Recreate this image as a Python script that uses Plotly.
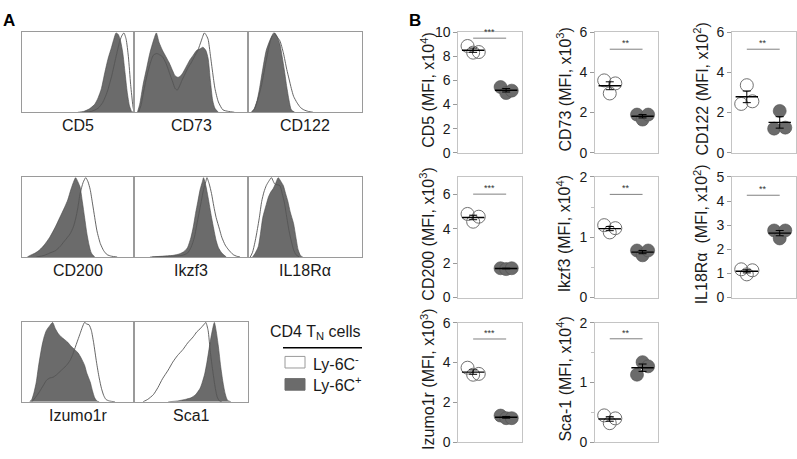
import numpy as np
import plotly.graph_objects as go

W, H = 797, 459
FONT = "Arial, Liberation Sans, Helvetica, sans-serif"

# ---------------- Panel A: histogram data (channel %, % of max) ----------------
HIST_LABELS = ["CD5", "CD73", "CD122", "CD200", "Ikzf3", "IL18R\u03b1", "Izumo1r", "Sca1"]

CD5_NEG_X = [55, 62, 68, 72, 76, 80, 84, 87, 89, 91, 93, 95, 97, 99, 100]
CD5_NEG_Y = [0, 1, 5, 12, 25, 45, 70, 88, 96, 100, 92, 70, 35, 8, 0]
CD5_POS_X = [50, 55, 60, 65, 68, 71, 74, 77, 80, 82, 84, 86, 88, 90, 92, 94, 96, 98, 100]
CD5_POS_Y = [0, 1, 4, 10, 18, 30, 50, 68, 82, 92, 100, 98, 90, 75, 50, 25, 8, 1, 0]

CD73_NEG_X = [4, 6, 9, 12, 15, 17, 20, 23, 25, 28, 31, 34, 36, 38, 40, 42, 44, 47, 50, 53, 56, 59, 61.7, 63, 65, 67, 69, 71, 74, 78, 83, 88]
CD73_NEG_Y = [0, 8, 30, 50, 65, 72, 74, 72, 70, 62, 50, 38, 30, 28, 33, 40, 46, 55, 62, 70, 78, 90, 100, 98, 92, 72, 50, 30, 13, 3, 1, 0]
CD73_POS_X = [3, 5, 8, 11, 14, 17, 19.6, 22, 25, 28, 31, 34, 36, 38.6, 41, 43, 46, 49, 52, 55, 58, 60.5, 63, 65, 67, 69, 71, 74]
CD73_POS_Y = [0, 10, 35, 55, 75, 90, 100, 88, 78, 70, 62, 52, 46, 44, 46, 50, 58, 66, 72, 78, 80, 82, 78, 68, 40, 15, 5, 0]

CD122_NEG_X = [3, 6, 9, 12, 15, 18, 20, 22.6, 25, 28, 31, 34, 36, 38, 40, 43, 46, 49, 53, 57]
CD122_NEG_Y = [0, 5, 18, 35, 58, 80, 92, 100, 96, 90, 75, 54, 42, 30, 20, 12, 6, 3, 1, 0]
CD122_POS_X = [3, 5, 8, 10, 13, 16, 19, 21, 23.5, 26, 28, 30, 32, 34, 36, 38, 41]
CD122_POS_Y = [0, 3, 15, 29, 55, 78, 90, 96, 100, 94, 86, 70, 52, 32, 15, 3, 0]

CD200_NEG_X = [13, 20, 25, 30, 34, 38, 43, 46, 48, 50, 52, 54.7, 57, 59, 61, 63, 65, 67, 70, 73, 76, 80, 85]
CD200_NEG_Y = [0, 2, 5, 8, 13, 20, 29, 38, 48, 62, 80, 94, 100, 95, 85, 68, 50, 33, 17, 8, 3, 1, 0]
CD200_POS_X = [5, 7.5, 12, 16, 20, 25, 30, 34, 38, 41, 44, 46, 48, 50, 52, 54, 56, 58, 60, 62, 65]
CD200_POS_Y = [0, 2, 5, 9, 15, 25, 38, 50, 62, 72, 86, 94, 100, 95, 88, 70, 50, 30, 15, 5, 0]

IKZF3_NEG_X = [16, 30, 42, 47, 50, 53, 55, 57, 59, 61, 63, 64, 66, 68, 70, 72, 75, 77, 80, 83, 87, 90, 93]
IKZF3_NEG_Y = [0, 1, 2, 5, 12, 25, 40, 55, 70, 85, 95, 100, 92, 80, 64, 50, 35, 25, 15, 9, 3, 1, 0]
IKZF3_POS_X = [14, 25, 34, 40, 44, 47, 50, 52, 54, 56, 58, 60, 61, 63, 65, 68, 70, 72, 74, 77, 81]
IKZF3_POS_Y = [0, 1, 2, 4, 7, 12, 25, 38, 55, 70, 85, 95, 100, 90, 75, 50, 35, 21, 12, 5, 0]

IL18R_NEG_X = [2, 4, 6, 7.5, 10, 12, 14, 16, 18, 20.6, 22, 23.5, 26, 28, 30, 32, 34, 36, 38, 40, 42, 45]
IL18R_NEG_Y = [0, 6, 18, 29, 50, 70, 82, 90, 95, 100, 96, 92, 91, 90, 80, 68, 50, 33, 20, 9, 3, 0]
IL18R_POS_X = [4, 6, 9, 11, 13, 16, 18, 20, 22, 24, 26.5, 29, 31, 33, 35, 37, 40, 42, 44, 46, 48]
IL18R_POS_Y = [0, 4, 13, 30, 50, 66, 76, 82, 86, 92, 100, 95, 90, 80, 70, 57, 42, 25, 9, 2, 0]

IZUMO_NEG_X = [9, 12, 16, 19, 22, 25, 28, 31, 34, 37, 40, 43, 45, 47, 50, 52, 54, 56, 58, 60, 62, 64, 66.6, 69, 71, 73, 75, 78, 83]
IZUMO_NEG_Y = [0, 5, 13, 20, 27, 30, 31, 34, 38, 42, 46, 52, 58, 66, 78, 86, 94, 100, 98, 97, 90, 75, 50, 30, 17, 8, 3, 1, 0]
IZUMO_POS_X = [7, 9, 11, 13, 15, 18, 20, 22, 25, 27.5, 30, 32.5, 35, 38.5, 41, 44, 47, 50, 53, 56, 58, 61, 63, 65, 67, 69]
IZUMO_POS_Y = [0, 3, 12, 25, 45, 70, 82, 90, 96, 100, 92, 86, 82, 78, 75, 70, 66, 62, 55, 46, 36, 25, 14, 5, 1, 0]

SCA1_NEG_X = [8, 12, 17, 21, 25, 30, 34, 38, 43, 47, 52, 55, 58, 61.7, 63, 65, 67, 69, 71, 73, 75, 77]
SCA1_NEG_Y = [0, 3, 9, 18, 29, 40, 50, 58, 66, 74, 82, 88, 92, 98, 100, 90, 62, 40, 20, 6, 1, 0]
SCA1_POS_X = [30, 38, 45, 50, 54, 58, 60, 62, 64, 66, 68, 70.5, 72, 74, 76, 78, 80, 82, 85]
SCA1_POS_Y = [0, 1, 3, 5, 9, 17, 25, 35, 50, 68, 85, 100, 90, 70, 45, 25, 10, 2, 0]

HISTS = [
    (CD5_NEG_X, CD5_NEG_Y, CD5_POS_X, CD5_POS_Y),
    (CD73_NEG_X, CD73_NEG_Y, CD73_POS_X, CD73_POS_Y),
    (CD122_NEG_X, CD122_NEG_Y, CD122_POS_X, CD122_POS_Y),
    (CD200_NEG_X, CD200_NEG_Y, CD200_POS_X, CD200_POS_Y),
    (IKZF3_NEG_X, IKZF3_NEG_Y, IKZF3_POS_X, IKZF3_POS_Y),
    (IL18R_NEG_X, IL18R_NEG_Y, IL18R_POS_X, IL18R_POS_Y),
    (IZUMO_NEG_X, IZUMO_NEG_Y, IZUMO_POS_X, IZUMO_POS_Y),
    (SCA1_NEG_X, SCA1_NEG_Y, SCA1_POS_X, SCA1_POS_Y),
]

# ---------------- Panel B: MFI dot-plot data ----------------
DOT_TITLES = [
    "CD5 (MFI, x10<sup>4</sup>)", "CD73 (MFI, x10<sup>3</sup>)", "CD122 (MFI, x10<sup>2</sup>)",
    "CD200 (MFI, x10<sup>3</sup>)", "Ikzf3 (MFI, x10<sup>4</sup>)", "IL18R\u03b1  (MFI, x10<sup>2</sup>)",
    "Izumo1r (MFI, x10<sup>3</sup>)", "Sca-1 (MFI, x10<sup>4</sup>)",
]
LY6C_NEG = [
    [8.85, 8.3, 8.35], [3.6, 2.95, 3.45], [2.43, 3.36, 2.56],
    [4.85, 4.4, 4.69], [1.2, 1.08, 1.15], [1.17, 0.96, 1.13],
    [3.74, 3.39, 3.43], [0.45, 0.32, 0.40],
]
LY6C_POS = [
    [5.45, 4.95, 5.15], [1.9, 1.65, 1.9], [1.2, 2.08, 1.25],
    [1.7, 1.65, 1.7], [0.78, 0.7, 0.78], [2.78, 2.45, 2.78],
    [1.34, 1.21, 1.21], [1.13, 1.34, 1.27],
]
Y_MAX = [10, 6, 6, 7, 2, 5, 6, 2]
Y_TICKS = [[0, 2, 4, 6, 8, 10], [0, 2, 4, 6], [0, 2, 4, 6], [0, 2, 4, 6],
           [0, 1, 2], [0, 1, 2, 3, 4, 5], [0, 2, 4, 6], [0, 1, 2]]
SIG_TEXT = ["***", "**", "**", "***", "**", "**", "***", "**"]
SIG_Y = [9.5, 5.15, 5.15, 6.0, 1.71, 4.24, 5.18, 1.73]
MINOR = [None, None, None, None, 0.5, None, None, 0.5]

# ---------------- layout geometry (pixels) ----------------
HIST_COLS = [(21.7, 134), (134, 248), (248, 362)]
HIST_ROWS = [(25, 108), (175, 258), (325, 408)]
DOT_COLS = [(458.3, 522), (595, 658.3), (732, 795.5)]
DOT_ROWS = [(25, 150), (175, 300), (326, 450)]
JITTER = [-0.17, 0.0, 0.17]

GRAY_FILL = "#6b6b6b"
TXT = "#1a1a1a"


def dx(px):
    return px / W


def dy(py):
    return 1 - py / H


fig = go.Figure()
layout = {}
annotations = []
shapes = []
ax = 0

# Panel A histograms
for i, (nx, ny, px_, py_) in enumerate(HISTS):
    ax += 1
    r, c = divmod(i, 3)
    xs = "x" if ax == 1 else f"x{ax}"
    ys = "y" if ax == 1 else f"y{ax}"
    fig.add_trace(go.Scatter(x=px_, y=py_, mode="lines", fill="tozeroy", fillcolor=GRAY_FILL,
                             line=dict(color="#4a4a4a", width=0.6, shape="spline", smoothing=0.6),
                             xaxis=xs, yaxis=ys, hoverinfo="skip"))
    fig.add_trace(go.Scatter(x=nx, y=ny, mode="lines",
                             line=dict(color="#555555", width=0.9, shape="spline", smoothing=0.6),
                             xaxis=xs, yaxis=ys, hoverinfo="skip"))
    x0, x1 = HIST_COLS[c]
    y0, y1 = HIST_ROWS[r]
    common = dict(showgrid=False, zeroline=False, showticklabels=False, ticks="",
                  showline=True, mirror=True, linecolor="#9a9a9a", linewidth=1)
    layout["xaxis" if ax == 1 else f"xaxis{ax}"] = dict(domain=[dx(x0), dx(x1)], range=[0, 100],
                                                        anchor=ys, **common)
    layout["yaxis" if ax == 1 else f"yaxis{ax}"] = dict(domain=[dy(y1), dy(y0)], range=[0, 101],
                                                        anchor=xs, **common)
    annotations.append(dict(text=HIST_LABELS[i], x=dx((x0 + x1) / 2), y=dy(y1 + 14),
                            xref="paper", yref="paper", showarrow=False,
                            font=dict(size=16, color=TXT, family=FONT), xanchor="center", yanchor="middle"))

# Panel B dot plots
for i in range(8):
    ax += 1
    r, c = divmod(i, 3)
    xs, ys = f"x{ax}", f"y{ax}"
    neg, pos = LY6C_NEG[i], LY6C_POS[i]
    fig.add_trace(go.Scatter(x=[0 + j for j in JITTER], y=neg, mode="markers",
                             marker=dict(symbol="circle-open", size=13, color="#707070", line=dict(width=1)),
                             xaxis=xs, yaxis=ys, hoverinfo="skip"))
    fig.add_trace(go.Scatter(x=[1 + j for j in JITTER], y=pos, mode="markers",
                             marker=dict(symbol="circle", size=13, color=GRAY_FILL,
                                         line=dict(width=0.6, color="#505050")),
                             xaxis=xs, yaxis=ys, hoverinfo="skip"))
    means = [float(np.mean(neg)), float(np.mean(pos))]
    sems = [float(np.std(neg, ddof=1) / np.sqrt(len(neg))), float(np.std(pos, ddof=1) / np.sqrt(len(pos)))]
    fig.add_trace(go.Scatter(x=[0, 1], y=means, mode="markers",
                             marker=dict(symbol="line-ew", size=16, line=dict(width=1.4, color="black")),
                             error_y=dict(type="data", array=sems, visible=True, color="black",
                                          thickness=1, width=4),
                             xaxis=xs, yaxis=ys, hoverinfo="skip"))
    x0, x1 = DOT_COLS[c]
    y0, y1 = DOT_ROWS[r]
    layout[f"xaxis{ax}"] = dict(domain=[dx(x0), dx(x1)], range=[-0.45, 1.48], anchor=ys,
                                showgrid=False, zeroline=False, showticklabels=False, ticks="",
                                showline=True, mirror=True, linecolor="#c4c4c4", linewidth=1)
    yax = dict(domain=[dy(y1), dy(y0)], range=[0, Y_MAX[i]], anchor=xs,
               showgrid=False, zeroline=False, tickvals=Y_TICKS[i], ticks="outside",
               ticklen=4, tickcolor="#9a9a9a", tickwidth=1,
               tickfont=dict(size=14, color=TXT, family=FONT),
               showline=True, mirror=True, linecolor="#c4c4c4", linewidth=1)
    if MINOR[i]:
        yax["minor"] = dict(dtick=MINOR[i], tick0=0, ticks="outside", ticklen=3,
                            tickcolor="#c4c4c4", tickwidth=1)
    layout[f"yaxis{ax}"] = yax
    # significance bar
    shapes.append(dict(type="line", xref=xs, yref=ys, x0=0, x1=1, y0=SIG_Y[i], y1=SIG_Y[i],
                       line=dict(color="#808080", width=1)))
    annotations.append(dict(text=SIG_TEXT[i], x=0.5, y=SIG_Y[i], xref=xs, yref=ys, showarrow=False,
                            yanchor="bottom", yshift=-1, font=dict(size=9, color="#333333", family=FONT)))
    # rotated y title
    annotations.append(dict(text=DOT_TITLES[i], x=dx(x0 - 31), y=dy((y0 + y1) / 2 - 3),
                            xref="paper", yref="paper", showarrow=False, textangle=-90,
                            xanchor="center", yanchor="middle",
                            font=dict(size=16, color=TXT, family=FONT)))

# Panel letters
annotations.append(dict(text="<b>A</b>", x=dx(1), y=dy(1), xref="paper", yref="paper", showarrow=False,
                        xanchor="left", yanchor="top", font=dict(size=17, color="black", family=FONT)))
annotations.append(dict(text="<b>B</b>", x=dx(407), y=dy(1), xref="paper", yref="paper", showarrow=False,
                        xanchor="left", yanchor="top", font=dict(size=17, color="black", family=FONT)))

# Custom legend
annotations.append(dict(text="CD4 T<sub>N</sub> cells", x=dx(315), y=dy(336), xref="paper", yref="paper",
                        showarrow=False, xanchor="center", yanchor="middle",
                        font=dict(size=16, color=TXT, family=FONT)))
shapes.append(dict(type="line", xref="paper", yref="paper", x0=dx(283), x1=dx(362), y0=dy(352), y1=dy(352),
                   line=dict(color="black", width=1.5)))
shapes.append(dict(type="rect", xref="paper", yref="paper", x0=dx(285), x1=dx(305), y0=dy(373), y1=dy(361),
                   line=dict(color="#9a9a9a", width=1), fillcolor="white"))
shapes.append(dict(type="rect", xref="paper", yref="paper", x0=dx(285), x1=dx(305), y0=dy(396), y1=dy(384),
                   line=dict(color="#6b6b6b", width=1), fillcolor=GRAY_FILL))
annotations.append(dict(text="Ly-6C<sup>-</sup>", x=dx(311), y=dy(368), xref="paper", yref="paper",
                        showarrow=False, xanchor="left", yanchor="middle",
                        font=dict(size=16, color=TXT, family=FONT)))
annotations.append(dict(text="Ly-6C<sup>+</sup>", x=dx(311), y=dy(390), xref="paper", yref="paper",
                        showarrow=False, xanchor="left", yanchor="middle",
                        font=dict(size=16, color=TXT, family=FONT)))

fig.update_layout(width=W, height=H, margin=dict(l=0, r=0, t=0, b=0),
                  paper_bgcolor="white", plot_bgcolor="white", showlegend=False,
                  annotations=annotations, shapes=shapes, font=dict(family=FONT), **layout)
fig.write_html("out.html", config={"displayModeBar": False, "staticPlot": True},
               post_script="document.body.style.margin='0';document.body.style.overflow='hidden';")
